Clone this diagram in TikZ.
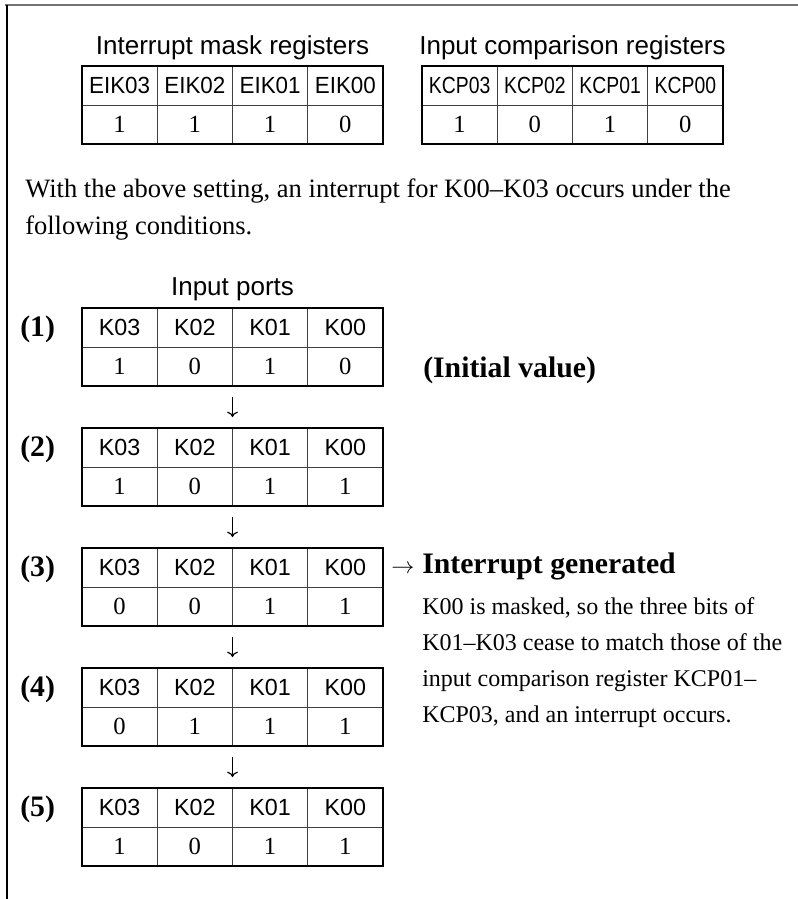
\documentclass[tikz,border=0pt]{standalone}
\usepackage{graphicx}
\usepackage{fontspec}
\setmainfont{Liberation Serif}
\setsansfont{Liberation Sans}
\usetikzlibrary{arrows.meta}
\newcommand\regtab[6]{%
  \foreach \hh [count=\ii] in {#4} {
    \node[hcell] (#1h\ii) at ({#2+(\ii-0.5)*75.25},{#3+19.5}) {\scalebox{#6}[1]{\hh}};
  }
  \foreach \vv [count=\ii] in {#5} {
    \node[vcell] (#1v\ii) at ({#2+(\ii-0.5)*75.25},{#3+58.5}) {\vv};
  }
  \draw[outerbox] (#1h1.north west) rectangle (#1v4.south east);
}
\begin{document}
\begin{tikzpicture}[x=0.75pt,y=-0.75pt,
  hcell/.style={draw=black!75, line width=0.75pt, minimum width=56.44pt, minimum height=29.25pt,
    inner sep=0pt, outer sep=0pt, font=\sffamily\fontsize{17.5pt}{20pt}\selectfont},
  vcell/.style={draw=black!75, line width=0.75pt, minimum width=56.44pt, minimum height=29.25pt,
    inner sep=0pt, outer sep=0pt, font=\fontsize{18.5pt}{21pt}\selectfont},
  outerbox/.style={line width=2.2pt, line join=miter},
  ttl/.style={anchor=base, inner sep=0pt, font=\sffamily\fontsize{19.5pt}{23pt}\selectfont},
  para/.style={anchor=base west, inner sep=0pt, font=\fontsize{19.9pt}{24pt}\selectfont},
  expl/.style={anchor=base west, inner sep=0pt, font=\fontsize{18pt}{22pt}\selectfont},
  lbl/.style={anchor=base west, inner sep=0pt, font=\bfseries\fontsize{22.3pt}{26pt}\selectfont},
  darr/.style={line width=0.9pt, -{To[length=4pt,width=8pt]}, shorten <=8.25pt, shorten >=8.25pt}
]
\useasboundingbox (0,0) rectangle (798,899);
% frame
\coordinate (ftl) at (5,5);
\coordinate (ftr) at (798,5);
\coordinate (fl) at (7,5);
\coordinate (fb) at (7,899);
\draw[line width=1.5pt, black!55] (ftl) -- (ftr);
\draw[line width=1pt] (fl) -- (fb);

% register tables
\node[ttl] (tEIK) at (232.5,55) {Interrupt mask registers};
\node[ttl] (tKCP) at (572.5,55) {Input comparison registers};
\regtab{eik}{82}{66}{EIK03,EIK02,EIK01,EIK00}{1,1,1,0}{0.96}
\regtab{kcp}{422}{66}{KCP03,KCP02,KCP01,KCP00}{1,0,1,0}{0.83}

% paragraph
\node[para] (par1) at (25,197) {With the above setting, an interrupt for K00–K03 occurs under the};
\node[para] (par2) at (25,234) {following conditions.};

% input ports
\node[ttl] (tIP) at (232.5,295) {Input ports};
\regtab{pa}{82}{308}{K03,K02,K01,K00}{1,0,1,0}{1}
\regtab{pb}{82}{428}{K03,K02,K01,K00}{1,0,1,1}{1}
\regtab{pc}{82}{548}{K03,K02,K01,K00}{0,0,1,1}{1}
\regtab{pd}{82}{668}{K03,K02,K01,K00}{0,1,1,1}{1}
\regtab{pe}{82}{788}{K03,K02,K01,K00}{1,0,1,1}{1}

\node[lbl] (l1) at (20,336) {(1)};
\node[lbl] (l2) at (20,456) {(2)};
\node[lbl] (l3) at (20,576) {(3)};
\node[lbl] (l4) at (20,696) {(4)};
\node[lbl] (l5) at (20,816) {(5)};

\draw[darr] (pav2.south east) -- (pbh2.north east);
\draw[darr] (pbv2.south east) -- (pch2.north east);
\draw[darr] (pcv2.south east) -- (pdh2.north east);
\draw[darr] (pdv2.south east) -- (peh2.north east);

\node[lbl] (init) at (423,377) {(Initial value)};

\node[anchor=base west, inner sep=0pt, font=\fontsize{17pt}{20pt}\selectfont] (garr) at (391,573) {$\rightarrow$};
\node[lbl] (gen) at (422,573) {Interrupt generated};
\node[expl] (e1) at (422,614) {K00 is masked, so the three bits of};
\node[expl] (e2) at (422,650) {K01–K03 cease to match those of the};
\node[expl] (e3) at (422,686) {input comparison register KCP01–};
\node[expl] (e4) at (422,722) {KCP03, and an interrupt occurs.};
\end{tikzpicture}
\end{document}
